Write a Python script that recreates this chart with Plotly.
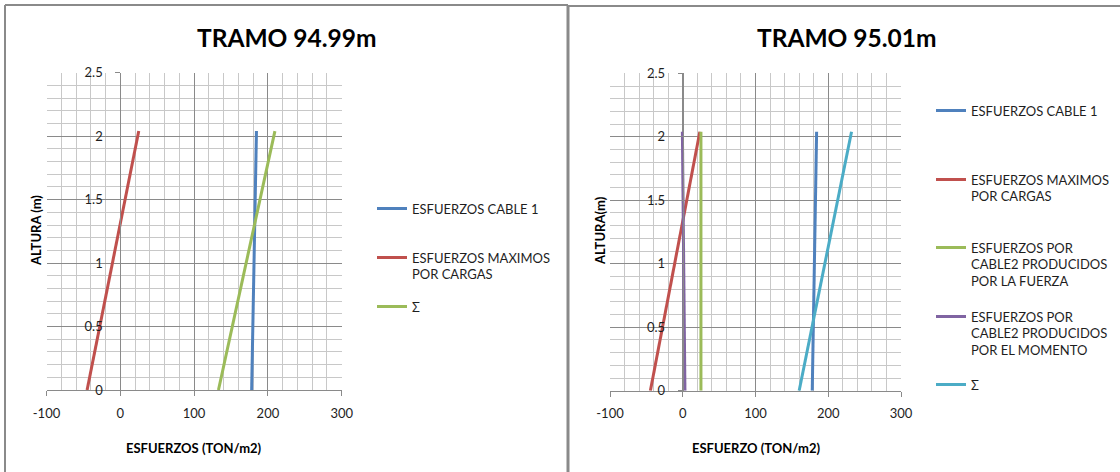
import plotly.graph_objects as go

W, H = 1120, 472

# ---------------- data ----------------
altura = [0, 2.04]

# TRAMO 94.99m
izq_cable1 = [178, 184.5]
izq_maximos = [-45, 25]
izq_suma = [133, 209.5]

# TRAMO 95.01m
der_cable1 = [178, 184]
der_maximos = [-44.5, 23.5]
der_fuerza = [25, 25]
der_momento = [3, -0.5]
der_suma = [160, 232]

x_ticks = [-100, 0, 100, 200, 300]
x_ticktext = ["-100", "0", "100", "200", "300"]
y_ticks = [0, 0.5, 1, 1.5, 2, 2.5]
y_ticktext = ["0", "0.5", "1", "1.5", "2", "2.5"]

name_cable1 = "ESFUERZOS CABLE 1"
name_maximos = "ESFUERZOS MAXIMOS<br>POR CARGAS"
name_fuerza = "ESFUERZOS POR<br>CABLE2 PRODUCIDOS<br>POR LA FUERZA"
name_momento = "ESFUERZOS POR<br>CABLE2 PRODUCIDOS<br>POR EL MOMENTO"
name_suma = "Σ"

C_BLUE = "#4F81BD"
C_RED = "#C0504D"
C_GREEN = "#9BBB59"
C_PURPLE = "#8064A2"
C_CYAN = "#4BACC6"

FONT = "Lato"
TXT = "#1e1e1e"
GRID_MAJ = "#8a8a8a"
GRID_MIN = "#c8c8c8"


def px(x):
    return x / W


def py(y):
    return 1 - y / H


# plot areas in pixels (left, right, top, bottom)
areaL = (46.5, 341.7, 72.7, 390.0)
areaR = (610.0, 901.0, 73.3, 390.7)
XR = [-100, 300]
YR = [0, 2.5]

fig = go.Figure()

traces = [
    # (x, name, color, axes, legend)
    (izq_cable1, name_cable1, C_BLUE, ("x", "y"), "legend"),
    (izq_maximos, name_maximos, C_RED, ("x", "y"), "legend2"),
    (izq_suma, name_suma, C_GREEN, ("x", "y"), "legend3"),
    (der_cable1, name_cable1, C_BLUE, ("x2", "y2"), "legend4"),
    (der_maximos, name_maximos, C_RED, ("x2", "y2"), "legend5"),
    (der_fuerza, name_fuerza, C_GREEN, ("x2", "y2"), "legend6"),
    (der_momento, name_momento, C_PURPLE, ("x2", "y2"), "legend7"),
    (der_suma, name_suma, C_CYAN, ("x2", "y2"), "legend8"),
]
for xs, nm, col, (xa, ya), lg in traces:
    fig.add_trace(go.Scatter(
        x=xs, y=altura, mode="lines", name=nm,
        line=dict(color=col, width=3),
        xaxis=xa, yaxis=ya, legend=lg, showlegend=True,
    ))


def xaxis_cfg(area, anchor):
    return dict(
        domain=[px(area[0]), px(area[1])], anchor=anchor, range=XR,
        tickmode="array", tickvals=x_ticks, ticktext=x_ticktext,
        showgrid=True, gridcolor=GRID_MAJ, gridwidth=1,
        minor=dict(tick0=-100, dtick=20, showgrid=True, gridcolor=GRID_MIN, gridwidth=1, ticks=""),
        showline=True, linecolor=GRID_MAJ, linewidth=1,
        ticks="outside", ticklen=5, tickcolor=GRID_MAJ,
        ticklabelstandoff=6, automargin=False,
        zeroline=False, fixedrange=True,
        tickfont=dict(family=FONT, size=13, color=TXT),
    )


def yaxis_cfg(area):
    d0, d1 = px(area[0]), px(area[1])
    pos = d0 + (0 - XR[0]) / (XR[1] - XR[0]) * (d1 - d0)
    return dict(
        domain=[py(area[3]), py(area[2])], anchor="free", position=pos, range=YR,
        tickmode="array", tickvals=y_ticks, ticktext=y_ticktext,
        showgrid=True, gridcolor=GRID_MAJ, gridwidth=1,
        minor=dict(tick0=0, dtick=0.1, showgrid=True, gridcolor=GRID_MIN, gridwidth=1, ticks=""),
        showline=True, linecolor=GRID_MAJ, linewidth=1,
        ticks="outside", ticklen=5, tickcolor=GRID_MAJ,
        ticklabelstandoff=10, automargin=False,
        zeroline=False, fixedrange=True,
        tickfont=dict(family=FONT, size=13, color=TXT),
    )


def legend_cfg(x_sym, y_first):
    return dict(
        x=px(x_sym - 5), y=py(y_first - 13.5), xanchor="left", yanchor="top",
        bgcolor="rgba(0,0,0,0)", borderwidth=0, valign="top",
        font=dict(family=FONT, size=13, color=TXT),
        itemwidth=30, tracegroupgap=0,
        itemclick=False, itemdoubleclick=False,
    )


legend_positions = {
    "legend": (377, 207),
    "legend2": (377, 256),
    "legend3": (377, 305),
    "legend4": (936, 109),
    "legend5": (936, 178),
    "legend6": (936, 246),
    "legend7": (936, 315),
    "legend8": (936, 383),
}

layout = dict(
    width=W, height=H,
    margin=dict(l=0, r=0, t=0, b=0, pad=0, autoexpand=False),
    paper_bgcolor="white", plot_bgcolor="white",
    xaxis=xaxis_cfg(areaL, "y"),
    yaxis=yaxis_cfg(areaL),
    xaxis2=xaxis_cfg(areaR, "y2"),
    yaxis2=yaxis_cfg(areaR),
)
for k, (xs, ys) in legend_positions.items():
    layout[k] = legend_cfg(xs, ys)
fig.update_layout(**layout)

# chart texts
annos = [
    dict(text="<b>TRAMO 94.99m</b>", x=px(287), y=py(37), size=24.5),
    dict(text="<b>TRAMO 95.01m</b>", x=px(847), y=py(37), size=24.5),
    dict(text="<b>ESFUERZOS (TON/m2)</b>", x=px(194), y=py(448), size=13),
    dict(text="<b>ESFUERZO (TON/m2)</b>", x=px(755.5), y=py(448), size=13),
]
for a in annos:
    fig.add_annotation(text=a["text"], x=a["x"], y=a["y"], xref="paper", yref="paper",
                       xanchor="center", yanchor="middle", showarrow=False,
                       font=dict(family=FONT, size=a["size"], color="black"))
for txt, xc in (("<b>ALTURA (m)</b>", 36), ("<b>ALTURA(m)</b>", 600)):
    fig.add_annotation(text=txt, x=px(xc), y=py(231), xref="paper", yref="paper",
                       xanchor="center", yanchor="middle", showarrow=False, textangle=-90,
                       font=dict(family=FONT, size=13, color="black"))

# chart borders
BORDER = "#8a8a8a"
fig.add_shape(type="line", xref="paper", yref="paper", x0=px(5), x1=px(568), y0=py(5), y1=py(5),
              line=dict(color=BORDER, width=2))
fig.add_shape(type="line", xref="paper", yref="paper", x0=px(5), x1=px(5), y0=py(5), y1=py(480),
              line=dict(color=BORDER, width=2))
fig.add_shape(type="line", xref="paper", yref="paper", x0=px(568), x1=px(568), y0=py(5), y1=py(480),
              line=dict(color=BORDER, width=3))
fig.add_shape(type="line", xref="paper", yref="paper", x0=px(568), x1=px(1125), y0=py(6), y1=py(6),
              line=dict(color=BORDER, width=2))

fig.write_html("out.html", config={"displayModeBar": False},
               post_script="document.body.style.margin='0px';")
